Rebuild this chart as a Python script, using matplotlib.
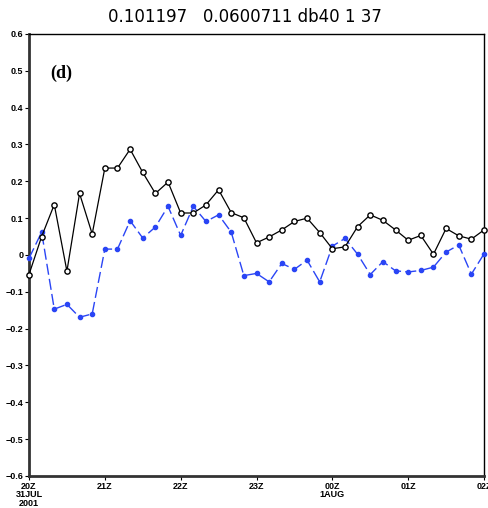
import numpy as np
import matplotlib
matplotlib.use('Agg')
import matplotlib.pyplot as plt

# 10-minute samples from 20Z 31JUL2001 to 02Z 1AUG
hours = [i / 6.0 for i in range(37)]

black_vals = [-0.053, 0.050, 0.137, -0.044, 0.167, 0.057, 0.236, 0.236, 0.287,
              0.224, 0.167, 0.198, 0.114, 0.114, 0.136, 0.177, 0.115, 0.101,
              0.033, 0.049, 0.068, 0.091, 0.100, 0.061, 0.017, 0.022, 0.077,
              0.109, 0.094, 0.068, 0.040, 0.053, 0.002, 0.072, 0.052, 0.043,
              0.068]

blue_vals = [-0.009, 0.062, -0.147, -0.134, -0.169, -0.160, 0.016, 0.016, 0.093,
             0.046, 0.076, 0.132, 0.053, 0.132, 0.091, 0.109, 0.062, -0.056,
             -0.050, -0.073, -0.023, -0.039, -0.014, -0.073, 0.024, 0.045, 0.002,
             -0.053, -0.018, -0.043, -0.046, -0.042, -0.033, 0.008, 0.027, -0.052,
             0.003]

xtick_pos = [0, 1, 2, 3, 4, 5, 6]
xtick_labels = ['20Z\n31JUL\n2001', '21Z', '22Z', '23Z', '00Z\n1AUG', '01Z', '02Z']
ytick_pos = [round(-0.6 + 0.1 * k, 1) for k in range(13)]
ytick_labels = ['0' if abs(v) < 1e-9 else ('%.1f' % v).replace('-', '\u2212') for v in ytick_pos]

fig = plt.figure(figsize=(4.89, 5.08), dpi=100)
ax = fig.add_axes([0.0593, 0.0630, 0.9305, 0.8701])

# blue dashed series with filled dots
ax.plot(hours, blue_vals, color='#2a45f5', linewidth=1.0, dashes=(8, 3),
        marker='o', markersize=3.0, markerfacecolor='#2a45f5',
        markeredgecolor='#2a45f5', clip_on=False, zorder=3)

# black solid series with open circles
ax.plot(hours, black_vals, color='black', linewidth=0.9,
        marker='o', markersize=3.8, markerfacecolor='white',
        markeredgecolor='black', markeredgewidth=1.0, clip_on=False, zorder=4)

ax.set_xlim(0, 6)
ax.set_ylim(-0.6, 0.6)

ax.set_xticks(xtick_pos)
ax.set_xticklabels(xtick_labels, fontsize=6.5, fontweight='bold',
                   family='Liberation Sans', linespacing=0.95)
ax.set_yticks(ytick_pos)
ax.set_yticklabels(ytick_labels, fontsize=6.5, fontweight='bold',
                   family='Liberation Sans')
ax.tick_params(axis='both', direction='out', length=3, width=0.8, pad=1)

for side in ['left', 'bottom']:
    ax.spines[side].set_linewidth(2.0)
    ax.spines[side].set_color('#333333')
for side in ['top', 'right']:
    ax.spines[side].set_linewidth(1.0)

ax.text(0.046, 0.912, '(d)', transform=ax.transAxes, fontsize=13,
        fontweight='bold', family='Liberation Serif', va='center', ha='left')

fig.text(0.5, 0.966, '0.101197   0.0600711 db40 1 37', ha='center', va='center',
         fontsize=12, family='DejaVu Sans', color='black')

plt.savefig('out.png', dpi=100)
